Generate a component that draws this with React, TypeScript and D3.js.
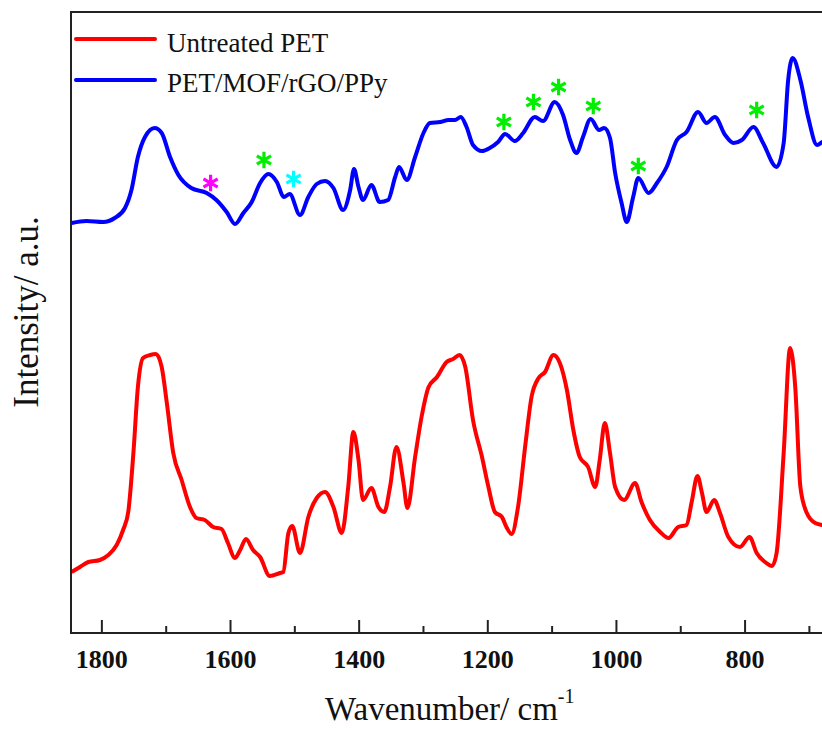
import React from "react";
import * as d3 from "d3";

// Wavenumber (cm-1) and intensity (a.u.)
const untreatedWN = [1847,1834,1821,1803,1790,1777,1767,1759,1751,1744,1736,1725,1716,1707,1699,1689,1676,1663,1653,1640,1627,1614,1604,1593,1585,1576,1565,1554,1539,1523,1518,1510,1504,1492,1479,1466,1453,1440,1427,1417,1409,1401,1394,1381,1370,1361,1352,1342,1331,1325,1313,1303,1292,1279,1264,1254,1244,1235,1223,1209,1199,1189,1178,1171,1163,1153,1142,1132,1121,1111,1098,1088,1077,1067,1057,1044,1033,1026,1018,1010,1002,988,971,961,948,932,919,904,891,883,874,867,860,848,839,826,808,793,782,769,758,751,740,730,722,714,704,691,680,668,655];
const untreatedI = [61,66,71,73,78,88,103,121,180,246,275,278,279,266,230,180,153,126,115,113,106,104,90,75,83,94,83,76,57,60,61,100,107,80,116,135,141,126,100,146,201,173,133,145,126,121,146,186,150,125,176,216,246,256,271,274,278,266,213,176,146,121,116,106,99,126,186,236,255,261,278,270,243,203,176,166,146,173,210,180,146,133,150,131,113,101,95,106,108,131,157,140,121,133,120,96,86,96,80,71,67,80,180,285,246,146,120,110,108,107,106];

const compositeWN = [1847,1824,1798,1780,1764,1754,1744,1733,1718,1707,1694,1681,1661,1637,1622,1606,1593,1580,1567,1554,1541,1528,1517,1508,1492,1479,1466,1453,1440,1425,1414,1408,1401,1394,1381,1368,1355,1344,1338,1326,1313,1300,1290,1274,1261,1251,1242,1233,1223,1209,1197,1184,1173,1158,1145,1127,1114,1096,1083,1072,1062,1052,1040,1027,1019,1010,1002,992,984,974,966,950,937,922,906,891,873,860,847,831,818,805,787,772,751,740,733,726,714,702,688,680,668,655];
const compositeI = [410,412,411,415,425,443,476,496,505,500,476,458,445,440,433,421,409,420,431,450,459,451,436,439,418,436,449,452,445,423,443,464,446,433,448,431,433,456,466,453,476,500,510,511,513,513,516,506,488,482,485,491,499,492,500,516,512,531,518,493,480,496,514,503,505,495,460,430,411,436,455,440,450,466,493,501,521,510,516,498,490,493,506,490,466,490,553,575,553,516,488,491,494,494];

// Band markers (asterisks)
const markerWN = [1631,1548,1502,1175,1129,1090,1036,966,782];
const markerI = [450,473,454,511,531,546,527,467,523];
const markerColor = ["#ff00ff","#00ee00","#00ffff","#00ee00","#00ee00","#00ee00","#00ee00","#00ee00","#00ee00"];

const majorTicks = [1800,1600,1400,1200,1000,800];
const minorTicks = [1700,1500,1300,1100,900,700];

const seriesNames = ["Untreated PET","PET/MOF/rGO/PPy"];
const seriesColors = ["#ff0000","#0000ff"];

const W = 822, H = 731;
const left = 71, right = 842, top = 12, bottom = 633;

export default function App() {
  const x = d3.scaleLinear().domain([1848, 650]).range([left, left + (1848 - 650) * 0.6432]);
  const y = d3.scaleLinear().domain([0, 621]).range([bottom, top]);
  const line = d3.line<[number, number]>().x(d => x(d[0])).y(d => y(d[1])).curve(d3.curveMonotoneX);
  const red = line(untreatedWN.map((w, i) => [w, untreatedI[i]]) as [number, number][]) || "";
  const blue = line(compositeWN.map((w, i) => [w, compositeI[i]]) as [number, number][]) || "";
  const star = d3.symbol().type(d3.symbolAsterisk).size(190)() || "";
  const font = "'Liberation Serif', 'Times New Roman', serif";

  return (
    <svg width={W} height={H} style={{ position: "absolute", left: 0, top: 0, background: "#fff" }}>
      <defs>
        <clipPath id="plot">
          <rect x={left} y={top} width={right - left} height={bottom - top} />
        </clipPath>
      </defs>
      <g clipPath="url(#plot)">
        <path d={red} fill="none" stroke={seriesColors[0]} strokeWidth={4} strokeLinejoin="round" />
        <path d={blue} fill="none" stroke={seriesColors[1]} strokeWidth={4} strokeLinejoin="round" />
        {markerWN.map((w, i) => (
          <path key={i} d={star} transform={`translate(${x(w)},${y(markerI[i])})`} fill="none" stroke={markerColor[i]} strokeWidth={3.2} />
        ))}
      </g>
      {/* frame */}
      <line x1={left} x2={W + 5} y1={top} y2={top} stroke="#222" strokeWidth={2} />
      <line x1={left} x2={left} y1={top - 1} y2={bottom + 1} stroke="#222" strokeWidth={2} />
      <line x1={left} x2={W + 5} y1={bottom} y2={bottom} stroke="#222" strokeWidth={2} />
      {majorTicks.map(t => (
        <g key={t}>
          <line x1={x(t)} x2={x(t)} y1={bottom} y2={bottom - 13} stroke="#222" strokeWidth={2} />
          <text x={x(t)} y={668} textAnchor="middle" fontFamily={font} fontWeight="bold" fontSize={26} fill="#111">{t}</text>
        </g>
      ))}
      {minorTicks.map(t => (
        <line key={t} x1={x(t)} x2={x(t)} y1={bottom} y2={bottom - 7} stroke="#222" strokeWidth={2} />
      ))}
      {/* legend */}
      {seriesNames.map((n, i) => (
        <g key={n}>
          <line x1={76} x2={155} y1={39 + i * 41} y2={39 + i * 41} stroke={seriesColors[i]} strokeWidth={4} strokeLinecap="round" />
          <text x={167} y={51.5 + i * 40.5} fontFamily={font} fontSize={27} fill="#111">{n}</text>
        </g>
      ))}
      {/* axis titles */}
      <text x={325} y={720} fontFamily={font} fontSize={33} fill="#111">
        Wavenumber/ cm<tspan fontSize={20} dy={-17}>-1</tspan>
      </text>
      <text transform="translate(38,312) rotate(-90)" textAnchor="middle" fontFamily={font} fontSize={35} fill="#111">Intensity/ a.u.</text>
    </svg>
  );
}
